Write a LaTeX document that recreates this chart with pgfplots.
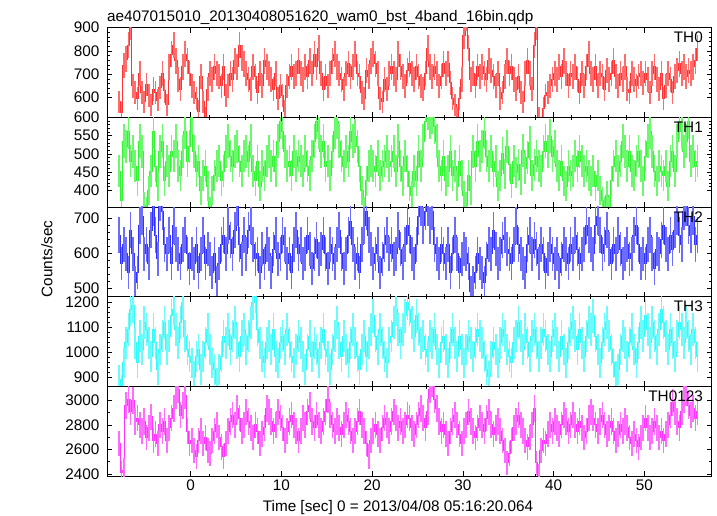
\documentclass[border=0pt]{standalone}
\usepackage{pgfplots}
\usepackage{pgfplotstable}
\pgfplotsset{compat=1.18}
\usepackage{fontspec}
\setmainfont{Liberation Sans}
\definecolor{cR}{RGB}{255,51,51}
\definecolor{cG}{RGB}{51,245,51}
\definecolor{cB}{RGB}{51,51,255}
\definecolor{cC}{RGB}{51,250,250}
\definecolor{cM}{RGB}{255,51,255}
\colorlet{eR}{cR!72!white}
\colorlet{eG}{cG!72!white}
\colorlet{eB}{cB!72!white}
\colorlet{eC}{cC!72!white}
\colorlet{eM}{cM!72!white}

\pgfplotstableread[row sep=\\]{y\\
582\\535\\737\\764\\825\\906\\650\\623\\
596\\704\\623\\582\\656\\609\\569\\636\\
623\\589\\643\\704\\629\\569\\731\\785\\
825\\758\\677\\636\\731\\785\\758\\704\\
650\\623\\596\\541\\690\\582\\515\\636\\
704\\677\\731\\704\\690\\650\\731\\609\\
650\\704\\677\\758\\731\\825\\771\\744\\
704\\677\\636\\731\\690\\623\\704\\650\\
758\\731\\704\\677\\636\\704\\596\\650\\
609\\541\\650\\690\\731\\690\\704\\758\\
704\\677\\731\\690\\758\\704\\785\\731\\
812\\704\\636\\690\\650\\704\\758\\785\\
731\\704\\677\\636\\704\\744\\690\\731\\
785\\704\\690\\623\\596\\717\\690\\758\\
785\\744\\704\\596\\582\\677\\636\\704\\
731\\704\\677\\785\\731\\690\\650\\717\\
744\\704\\677\\731\\690\\650\\636\\704\\
812\\731\\690\\731\\704\\650\\690\\744\\
704\\744\\663\\596\\569\\515\\596\\677\\
866\\947\\812\\677\\704\\650\\731\\690\\
731\\704\\677\\758\\717\\690\\650\\704\\
596\\623\\690\\758\\704\\731\\677\\636\\
690\\623\\582\\704\\758\\704\\636\\825\\
906\\515\\460\\555\\609\\623\\650\\677\\
704\\677\\731\\690\\758\\704\\650\\704\\
690\\731\\677\\623\\704\\650\\731\\785\\
704\\677\\731\\650\\704\\690\\636\\717\\
677\\704\\758\\690\\650\\704\\677\\731\\
636\\623\\704\\677\\650\\690\\704\\663\\
704\\677\\623\\704\\731\\677\\636\\704\\
596\\650\\704\\677\\623\\690\\717\\744\\
704\\731\\690\\717\\704\\731\\758\\812\\
}\thA

\pgfplotstableread[row sep=\\]{y\\
453\\372\\534\\520\\561\\480\\507\\466\\
426\\534\\507\\358\\345\\399\\453\\561\\
466\\412\\507\\534\\426\\480\\453\\507\\
494\\534\\466\\440\\507\\561\\480\\520\\
602\\507\\453\\480\\399\\440\\466\\412\\
345\\399\\440\\466\\480\\426\\453\\507\\
534\\494\\466\\507\\520\\480\\453\\494\\
507\\480\\534\\453\\426\\480\\412\\466\\
440\\480\\507\\466\\494\\453\\534\\588\\
561\\507\\466\\480\\440\\507\\466\\494\\
480\\453\\507\\466\\440\\494\\534\\588\\
561\\507\\534\\466\\480\\440\\507\\561\\
588\\534\\494\\466\\507\\480\\561\\534\\
548\\520\\466\\399\\345\\426\\466\\480\\
466\\453\\494\\440\\466\\480\\507\\466\\
480\\507\\453\\534\\466\\426\\494\\453\\
412\\386\\453\\426\\507\\466\\534\\588\\
615\\588\\602\\574\\534\\466\\440\\494\\
426\\453\\507\\440\\466\\412\\480\\440\\
386\\358\\440\\399\\507\\466\\534\\494\\
520\\561\\494\\466\\507\\453\\480\\412\\
440\\500\\445\\520\\470\\420\\480\\450\\
470\\430\\510\\460\\490\\530\\440\\470\\
494\\466\\453\\507\\534\\507\\548\\494\\
520\\466\\440\\480\\426\\412\\466\\440\\
453\\494\\466\\507\\480\\453\\466\\440\\
426\\453\\412\\440\\399\\372\\345\\386\\
345\\426\\466\\494\\453\\480\\534\\507\\
466\\507\\453\\440\\480\\507\\466\\426\\
494\\534\\561\\507\\453\\426\\466\\453\\
440\\466\\412\\480\\507\\453\\534\\588\\
561\\507\\534\\588\\480\\507\\466\\480\\
}\thB

\pgfplotstableread[row sep=\\]{y\\
652\\571\\625\\598\\544\\666\\598\\517\\
544\\679\\706\\598\\625\\571\\666\\733\\
652\\584\\746\\720\\625\\598\\652\\571\\
679\\625\\598\\571\\625\\652\\598\\557\\
598\\571\\625\\544\\598\\652\\571\\612\\
584\\544\\598\\517\\571\\625\\652\\598\\
679\\638\\598\\666\\733\\625\\584\\652\\
598\\666\\679\\625\\584\\598\\544\\612\\
571\\625\\598\\544\\612\\652\\584\\598\\
652\\625\\571\\598\\544\\625\\666\\598\\
625\\571\\598\\652\\612\\557\\598\\638\\
584\\612\\652\\598\\557\\625\\598\\571\\
625\\666\\598\\557\\598\\652\\692\\625\\
571\\598\\544\\625\\679\\720\\652\\612\\
571\\598\\625\\544\\584\\625\\652\\598\\
625\\584\\598\\666\\612\\571\\625\\679\\
652\\598\\571\\625\\706\\733\\679\\720\\
733\\679\\720\\625\\598\\571\\625\\598\\
571\\625\\544\\598\\652\\598\\544\\584\\
612\\598\\571\\490\\517\\544\\598\\571\\
544\\517\\584\\625\\598\\666\\612\\571\\
598\\638\\652\\612\\598\\571\\625\\679\\
625\\598\\571\\544\\625\\652\\598\\638\\
612\\571\\625\\598\\544\\584\\625\\598\\
571\\598\\544\\584\\625\\598\\571\\625\\
598\\652\\612\\571\\598\\625\\679\\652\\
625\\598\\679\\706\\652\\598\\625\\666\\
612\\571\\625\\598\\652\\612\\571\\598\\
625\\584\\598\\652\\679\\625\\571\\598\\
571\\625\\652\\598\\557\\612\\598\\638\\
679\\625\\598\\652\\612\\666\\706\\652\\
625\\720\\733\\679\\652\\706\\625\\652\\
}\thC

\pgfplotstableread[row sep=\\]{y\\
890\\849\\957\\1038\\1092\\1173\\1187\\1038\\
957\\1065\\1011\\1119\\1092\\1038\\984\\1092\\
1038\\930\\1011\\1065\\1119\\1011\\1065\\1146\\
1173\\1092\\1038\\1119\\1200\\1065\\1011\\984\\
957\\903\\984\\1011\\930\\984\\1038\\1092\\
1011\\957\\930\\876\\930\\984\\1065\\1038\\
1092\\1011\\1065\\1119\\1038\\984\\1065\\1092\\
1011\\1065\\1119\\1200\\1227\\1092\\1038\\984\\
957\\1038\\1065\\1011\\1092\\984\\957\\1038\\
1065\\1011\\1092\\1038\\984\\957\\1011\\1065\\
1038\\984\\930\\1011\\1065\\984\\1038\\1011\\
957\\1038\\1092\\1011\\984\\930\\1011\\1065\\
1119\\1038\\984\\1065\\1011\\957\\1038\\1092\\
1038\\984\\930\\1011\\1065\\984\\1038\\1092\\
1146\\1065\\1011\\1092\\1038\\984\\957\\1038\\
1065\\1119\\1173\\1092\\1038\\1092\\1146\\1200\\
1173\\1119\\1065\\1146\\1092\\1038\\1065\\1011\\
984\\1065\\1038\\1092\\1011\\957\\1038\\1065\\
1011\\957\\1038\\1092\\1038\\984\\1065\\1011\\
957\\1011\\1065\\1038\\984\\1038\\1092\\1065\\
1038\\984\\930\\903\\984\\1038\\1011\\957\\
1038\\1092\\1065\\1011\\984\\957\\1038\\1065\\
1119\\1065\\1011\\1092\\1038\\984\\1065\\1092\\
1038\\984\\1038\\1092\\1065\\1011\\984\\1065\\
1092\\1038\\984\\1065\\1011\\957\\1038\\1092\\
1119\\1065\\1011\\1092\\1038\\984\\1065\\1119\\
1092\\1146\\1065\\1011\\957\\1038\\1092\\1119\\
1065\\1011\\957\\903\\930\\1011\\1065\\1038\\
984\\1038\\1092\\1011\\957\\1038\\1119\\1065\\
1146\\1092\\1038\\1119\\1065\\1011\\1092\\1173\\
1119\\1065\\1011\\1092\\1038\\984\\1065\\1119\\
1092\\1038\\1119\\1065\\1011\\1092\\1038\\984\\
}\thD

\pgfplotstableread[row sep=\\]{y\\
2650\\2410\\2430\\2959\\3011\\2907\\2998\\2829\\
2855\\2803\\2751\\2829\\2699\\2777\\2868\\2673\\
2725\\2647\\2803\\2751\\2829\\2673\\2777\\2855\\
2933\\3037\\3089\\2881\\2959\\3037\\2751\\2647\\
2673\\2595\\2543\\2673\\2751\\2647\\2699\\2595\\
2569\\2673\\2751\\2803\\2699\\2621\\2543\\2647\\
2751\\2829\\2881\\2803\\2933\\2855\\2751\\2803\\
2907\\2829\\2777\\2699\\2803\\2751\\2647\\2725\\
2777\\2933\\2907\\2829\\2751\\2803\\2907\\2855\\
2777\\2673\\2751\\2829\\2881\\2803\\2751\\2673\\
2751\\2855\\2803\\2907\\2959\\2829\\2777\\2881\\
2803\\2751\\2829\\2907\\3011\\2881\\2803\\2751\\
2829\\2777\\2725\\2803\\2881\\2829\\2751\\2673\\
2751\\2829\\2907\\2803\\2751\\2647\\2543\\2673\\
2751\\2803\\2725\\2673\\2777\\2855\\2803\\2751\\
2829\\2907\\2855\\2777\\2829\\2751\\2803\\2881\\
2855\\2777\\2725\\2803\\2881\\2933\\2855\\2777\\
2907\\3089\\3141\\3011\\2933\\2829\\2751\\2803\\
2725\\2647\\2751\\2829\\2881\\2803\\2725\\2647\\
2751\\2803\\2907\\2829\\2751\\2699\\2777\\2855\\
2803\\2751\\2855\\2907\\2803\\2725\\2777\\2829\\
2751\\2673\\2595\\2491\\2569\\2673\\2777\\2829\\
2881\\2803\\2751\\2673\\2621\\2699\\2803\\2933\\
2491\\2387\\2595\\2673\\2647\\2725\\2803\\2751\\
2829\\2777\\2725\\2803\\2881\\2829\\2751\\2803\\
2881\\2803\\2751\\2829\\2777\\2699\\2751\\2855\\
2907\\2855\\2803\\2751\\2829\\2881\\2803\\2725\\
2777\\2829\\2751\\2673\\2725\\2803\\2751\\2829\\
2777\\2699\\2647\\2725\\2673\\2621\\2699\\2777\\
2855\\2777\\2699\\2751\\2829\\2777\\2699\\2751\\
2673\\2725\\2803\\2881\\2985\\2907\\2829\\2777\\
2907\\3011\\3063\\2959\\2881\\2933\\2855\\2907\\
}\thE

\pgfplotsset{
  panel/.style={
    scale only axis, width=604.7bp, height=89.7bp,
    anchor=north west,
    xmin=-9.23, xmax=57.43,
    xtick={0,10,20,30,40,50}, minor x tick num=4,
    tick align=inside,
    major tick length=5bp, minor tick length=2.5bp,
    every tick/.style={black, line width=0.6bp},
    axis line style={black, line width=0.8bp},
    ticklabel style={font=\fontsize{15.3bp}{18bp}\selectfont},
    yticklabel style={xshift=-4bp},
    /pgf/number format/assume math mode=true,
    /pgf/number format/1000 sep={},
    clip=true,
  },
}
\newcommand{\thlab}[1]{\node[anchor=north east, inner sep=0pt, font=\fontsize{15.3bp}{18bp}\selectfont] at (rel axis cs:0.9856,0.95) {#1};}

\begin{document}
\begin{tikzpicture}
\path[use as bounding box] (0,0) rectangle (717bp,-516bp);

\node[anchor=base west, inner sep=0pt, font=\fontsize{15.3bp}{18bp}\selectfont] at (107bp,-21bp) {ae407015010\_20130408051620\_wam0\_bst\_4band\_16bin.qdp};

\begin{axis}[panel, at={(107bp,-27.5bp)}, ymin=516, ymax=900, ytick={600,700,800,900}, minor y tick num=4, xticklabels={}]
\addplot[draw=cR, const plot mark mid, mark=none, line width=1bp,
  error bars/y dir=both, error bars/y explicit, error bars/error mark=none,
  error bars/error bar style={draw=eR, solid, line width=1.6bp}]
  table[x expr=-7.875+0.25*\coordindex, y=y, y error expr=2*sqrt(\thisrow{y})] {\thA};
\thlab{TH0}
\end{axis}

\begin{axis}[panel, at={(107bp,-117.2bp)}, ymin=355, ymax=600, ytick={400,450,500,550,600}, minor y tick num=4, xticklabels={}]
\addplot[draw=cG, const plot mark mid, mark=none, line width=1bp,
  error bars/y dir=both, error bars/y explicit, error bars/error mark=none,
  error bars/error bar style={draw=eG, solid, line width=1.6bp}]
  table[x expr=-7.875+0.25*\coordindex, y=y, y error expr=2*sqrt(\thisrow{y})] {\thB};
\thlab{TH1}
\end{axis}

\begin{axis}[panel, at={(107bp,-206.9bp)}, ymin=475.6, ymax=732.8, ytick={500,600,700}, minor y tick num=4, xticklabels={}]
\addplot[draw=cB, const plot mark mid, mark=none, line width=1bp,
  error bars/y dir=both, error bars/y explicit, error bars/error mark=none,
  error bars/error bar style={draw=eB, solid, line width=1.6bp}]
  table[x expr=-7.875+0.25*\coordindex, y=y, y error expr=2*sqrt(\thisrow{y})] {\thC};
\thlab{TH2}
\end{axis}

\begin{axis}[panel, at={(107bp,-296.6bp)}, ymin=862.8, ymax=1224, ytick={900,1000,1100,1200}, minor y tick num=4, xticklabels={}]
\addplot[draw=cC, const plot mark mid, mark=none, line width=1bp,
  error bars/y dir=both, error bars/y explicit, error bars/error mark=none,
  error bars/error bar style={draw=eC, solid, line width=1.6bp}]
  table[x expr=-7.875+0.25*\coordindex, y=y, y error expr=2*sqrt(\thisrow{y})] {\thD};
\thlab{TH3}
\end{axis}

\begin{axis}[panel, at={(107bp,-386.3bp)}, ymin=2384, ymax=3116, ytick={2400,2600,2800,3000}, minor y tick num=1]
\addplot[draw=cM, const plot mark mid, mark=none, line width=1bp,
  error bars/y dir=both, error bars/y explicit, error bars/error mark=none,
  error bars/error bar style={draw=eM, solid, line width=1.6bp}]
  table[x expr=-7.875+0.25*\coordindex, y=y, y error expr=2*sqrt(\thisrow{y})] {\thE};
\thlab{TH0123}
\end{axis}

\node[rotate=90, inner sep=0pt, font=\fontsize{15.3bp}{18bp}\selectfont] at (47bp,-259bp) {Counts/sec};
\node[anchor=base, inner sep=0pt, font=\fontsize{15.3bp}{18bp}\selectfont] at (398bp,-511bp) {Time [sec] 0 = 2013/04/08 05:16:20.064};
\end{tikzpicture}
\end{document}
